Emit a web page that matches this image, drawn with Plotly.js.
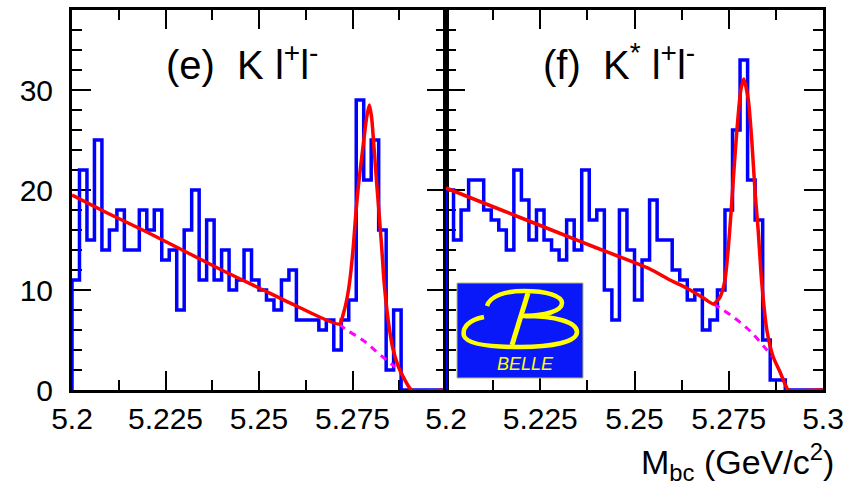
<!DOCTYPE html>
<html>
<head>
<meta charset="utf-8">
<script src="https://cdn.plot.ly/plotly-3.0.1.min.js"></script>
<style>html,body{margin:0;padding:0;background:#fff;}#chart{width:863px;height:489px;}</style>
</head>
<body>
<div id="chart"></div>
<script>
// ---- data ----
const binLow = 5.2;
const binWidth = 0.002;
// (e) K l+l-  : counts per 2 MeV bin, 5.200 - 5.300
const countsE = [11,22,15,25,14,16,18,14,14,18,16,18,13,14,8,16,20,11,17,11,14,10,11,14,11,10,9,8,11,12,7,7,7,6,7,4,7,9,29,21,25,16,2,8,0,0,0,0,0,0];
// (f) K* l+l- : counts per 2 MeV bin
const countsF = [20,15,18,21,21,18,17,16,14,22,19,15,18,15,14,13,17,14,22,17,18,10,7,18,14,9,13,19,15,15,12,11,9,10,6,7,10,18,26,33,21,17,5,1,1,0,0,0,0,0];

// total fit (solid red), panel (e)
const fitEx = [5.2000,5.2100,5.2200,5.2300,5.2400,5.2500,5.2600,5.2715,5.2726,5.2736,5.2743,5.2752,5.2759,5.2766,5.2777,5.2788,5.2795,5.2801,5.2808,5.2815,5.2821,5.2828,5.2834,5.2843,5.2857,5.2873,5.2890,5.2908,5.3000];
const fitEy = [19.5,17.6,15.8,13.9,12.0,10.2,8.4,6.6,7.7,9.3,11.0,14.3,17.7,20.5,24.0,27.3,28.5,27.3,24.0,20.5,17.7,14.3,11.0,7.7,4.3,2.3,1.0,0.0,0.0];
// background (dashed magenta), panel (e)
const bkgEx = [5.2715,5.2734,5.2761,5.2788,5.2815,5.2841,5.2864];
const bkgEy = [6.6,6.0,5.4,4.7,3.8,3.0,2.3];

// total fit, panel (f)
const fitFx = [5.2000,5.2100,5.2200,5.2300,5.2400,5.2462,5.2541,5.2594,5.2638,5.2683,5.2709,5.2727,5.2740,5.2749,5.2756,5.2762,5.2771,5.2782,5.2790,5.2802,5.2811,5.2820,5.2828,5.2837,5.2851,5.2868,5.2886,5.2904,5.2908,5.3000];
const fitFy = [20.2,18.7,17.2,15.7,14.2,13.3,12.1,11.0,10.2,9.2,8.6,9.3,11.0,14.3,17.7,21.0,25.7,30.0,31.1,29.0,25.0,19.7,16.0,11.0,6.0,3.3,1.8,0.2,0.0,0.0];
// background, panel (f)
const bkgFx = [5.2709,5.2727,5.2762,5.2798,5.2824,5.2851,5.2864];
const bkgFy = [8.6,8.2,7.3,6.2,5.2,4.0,3.4];

// axis ticks
const xMajorE = [5.2,5.225,5.25,5.275];
const xMajorEText = ['5.2','5.225','5.25','5.275'];
const xMajorF = [5.2,5.225,5.25,5.275,5.3];
const xMajorFText = ['5.2','5.225','5.25','5.275','5.3'];
const xMinor = [5.2125,5.2375,5.2625,5.2875];
const yMajor = [0,10,20,30];
const yMajorText = ['0','10','20','30'];

// ---- build histogram outlines ----
function outline(counts){
  const xs = [binLow], ys = [0];
  for (let i = 0; i < counts.length; i++){
    xs.push(Math.round((binLow + binWidth*i)*1e5)/1e5);
    ys.push(counts[i]);
  }
  xs.push(Math.round((binLow + binWidth*counts.length)*1e5)/1e5);
  ys.push(counts[counts.length-1]);
  return {xs, ys};
}
const hE = outline(countsE), hF = outline(countsF);

const BLUE = '#0000ff', RED = '#ff0000', MAG = '#ff00ff';
const FONT = 'Liberation Sans, Arial, Helvetica, sans-serif';

const traces = [
  {x: hE.xs, y: hE.ys, xaxis:'x', yaxis:'y', mode:'lines', line:{shape:'hv', color:BLUE, width:3.5}, hoverinfo:'skip'},
  {x: bkgEx, y: bkgEy, xaxis:'x', yaxis:'y', mode:'lines', line:{color:MAG, width:3, dash:'7px,6px', shape:'spline'}, hoverinfo:'skip'},
  {x: fitEx, y: fitEy, xaxis:'x', yaxis:'y', mode:'lines', line:{color:RED, width:3.5, shape:'spline', smoothing:0.6}, hoverinfo:'skip'},
  {x: hF.xs, y: hF.ys, xaxis:'x2', yaxis:'y2', mode:'lines', line:{shape:'hv', color:BLUE, width:3.5}, hoverinfo:'skip'},
  {x: bkgFx, y: bkgFy, xaxis:'x2', yaxis:'y2', mode:'lines', line:{color:MAG, width:3, dash:'7px,6px', shape:'spline'}, hoverinfo:'skip'},
  {x: fitFx, y: fitFy, xaxis:'x2', yaxis:'y2', mode:'lines', line:{color:RED, width:3.5, shape:'spline', smoothing:0.6}, hoverinfo:'skip'}
];

// ---- geometry helpers (pixel -> paper) ----
const W = 863, H = 489, ML = 72, MR = 40, MT = 10, MB = 99;
const PW = W - ML - MR, PH = H - MT - MB;
const px = x => (x - ML) / PW;
const py = y => (H - MB - y) / PH;
function pathFrom(spec){
  return spec.map(([c, pts]) => {
    const out = [];
    for (let i = 0; i < pts.length; i += 2) out.push(px(pts[i]).toFixed(5) + ',' + py(pts[i+1]).toFixed(5));
    return c + ' ' + out.join(' ');
  }).join(' ');
}
const D = (446 - ML) / PW;

const tickCommon = {
  ticks:'inside', ticklen:19, tickwidth:2, tickcolor:'#000',
  showline:true, linecolor:'#000', linewidth:3, mirror:'ticks',
  showgrid:false, zeroline:false, layer:'below traces',
  tickfont:{family:FONT, size:30, color:'#000'}
};
const minorX = {tickmode:'array', tickvals:xMinor, ticks:'inside', ticklen:10, tickwidth:2, tickcolor:'#000'};
const minorY = {tick0:0, dtick:2, ticks:'inside', ticklen:10, tickwidth:2, tickcolor:'#000'};

const YELLOW = '#ffff00';
const layout = {
  width: W, height: H,
  margin: {l:ML, r:MR, t:MT, b:MB, pad:0},
  paper_bgcolor:'#fff', plot_bgcolor:'#fff',
  showlegend:false,
  font:{family:FONT, color:'#000'},
  xaxis: Object.assign({}, tickCommon, {domain:[0, D], range:[5.2, 5.3], anchor:'y', tickmode:'array', tickvals:xMajorE, ticktext:xMajorEText, minor:minorX, ticklabelstandoff:0}),
  yaxis: Object.assign({}, tickCommon, {domain:[0,1], range:[0,38], anchor:'x', tickmode:'array', tickvals:yMajor, ticktext:yMajorText, minor:minorY, ticklabelstandoff:10}),
  xaxis2: Object.assign({}, tickCommon, {domain:[D, 1], range:[5.2, 5.3], anchor:'y2', tickmode:'array', tickvals:xMajorF, ticktext:xMajorFText, minor:minorX, ticklabelstandoff:0}),
  yaxis2: Object.assign({}, tickCommon, {domain:[0,1], range:[0,38], anchor:'x2', tickmode:'array', tickvals:yMajor, showticklabels:false, minor:minorY}),
  shapes: [
    {type:'rect', xref:'paper', yref:'paper', x0:px(457), x1:px(583), y0:py(378), y1:py(283), fillcolor:'#0818f8', line:{color:'#b8b870', width:1}, layer:'above'},
    {type:'path', xref:'paper', yref:'paper', layer:'above', line:{color:YELLOW, width:4.5},
     path: pathFrom([['M',[487,306]],['C',[490,296,505,291,524,291]],['C',[547,291,562,296,562,303]],['C',[562,311,545,316,522,316]]])},
    {type:'path', xref:'paper', yref:'paper', layer:'above', line:{color:YELLOW, width:4.5},
     path: pathFrom([['M',[484,317]],['C',[468,320,462,328,464,336]],['C',[467,344,490,347,520,347]],['C',[552,347,577,342,577,332]],['C',[577,322,555,316,525,316]]])},
    {type:'path', xref:'paper', yref:'paper', layer:'above', line:{color:YELLOW, width:5},
     path: pathFrom([['M',[528,293]],['L',[512,345]]])}
  ],
  annotations: [
    {xref:'paper', yref:'paper', x:px(164), y:py(62), xanchor:'left', yanchor:'middle', showarrow:false,
     text:'(e)\u00a0\u00a0K l<sup>+</sup>l<sup>-</sup>', font:{family:FONT, size:40, color:'#000'}},
    {xref:'paper', yref:'paper', x:px(541), y:py(62), xanchor:'left', yanchor:'middle', showarrow:false,
     text:'(f)\u00a0\u00a0K<sup>*</sup> l<sup>+</sup>l<sup>-</sup>', font:{family:FONT, size:40, color:'#000'}},
    {xref:'paper', yref:'paper', x:px(836), y:py(462), xanchor:'right', yanchor:'middle', showarrow:false,
     text:'M<sub>bc</sub> (GeV/c<sup>2</sup>)', font:{family:FONT, size:34, color:'#000'}},
    {xref:'paper', yref:'paper', x:px(525), y:py(364), xanchor:'center', yanchor:'middle', showarrow:false,
     text:'BELLE', font:{family:FONT, size:18, color:YELLOW, style:'italic'}}
  ]
};

Plotly.newPlot('chart', traces, layout, {staticPlot:true, displayModeBar:false});
</script>
</body>
</html>
